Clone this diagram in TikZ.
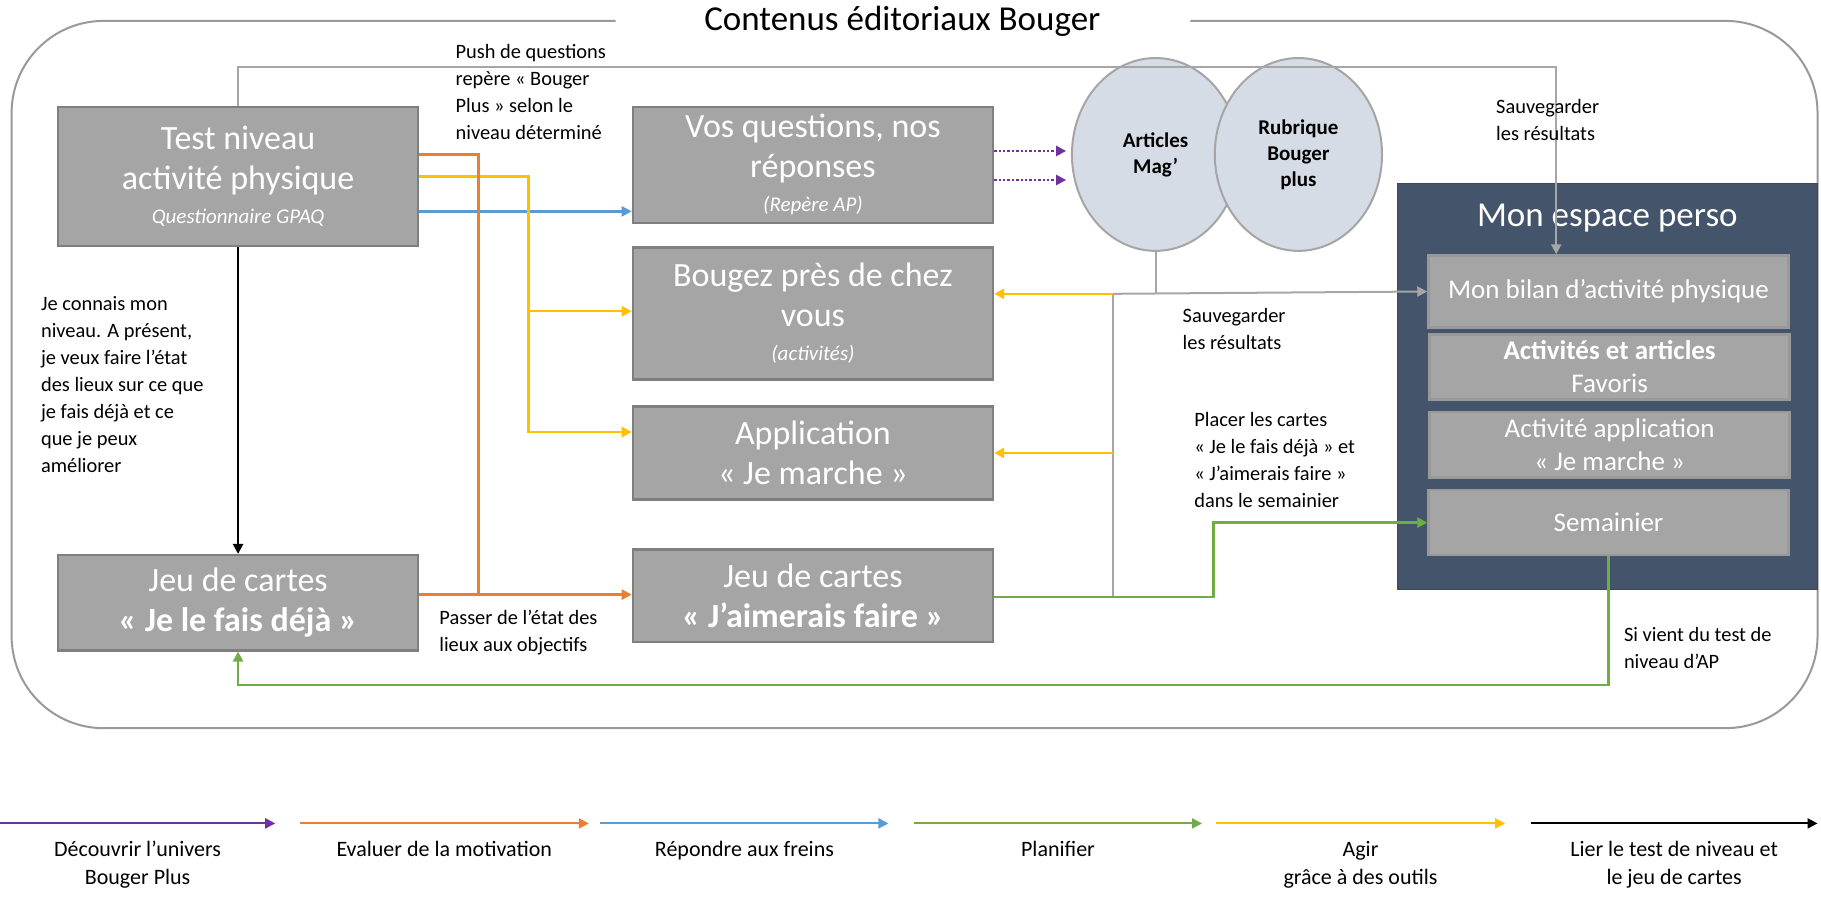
\documentclass[tikz,border=0pt]{standalone}
\usepackage{fontspec}
\setmainfont{Carlito}
\usetikzlibrary{positioning,calc,arrows.meta,shapes.geometric}
\definecolor{boxgray}{HTML}{A5A5A5}
\definecolor{boxline}{HTML}{7F7F7F}
\definecolor{circfill}{HTML}{D6DCE5}
\definecolor{navy}{HTML}{44546A}
\definecolor{corange}{HTML}{ED7D31}
\definecolor{cyellow}{HTML}{FFC000}
\definecolor{cblue}{HTML}{5B9BD5}
\definecolor{cgreen}{HTML}{70AD47}
\definecolor{cpurple}{HTML}{7030A0}
\tikzset{
  gbox/.style={draw=boxline, line width=1.2pt, fill=boxgray, text=white, align=center,
    minimum width=180pt, font=\fontsize{17}{20}\selectfont, inner sep=2pt},
  ibox/.style={draw=boxline!80, line width=1.2pt, fill=boxgray, text=white, align=center,
    minimum width=180pt, font=\fontsize{13.5}{16.5}\selectfont, inner sep=1pt},
  circ/.style={draw=boxgray, line width=1pt, fill=circfill, ellipse, minimum width=83.6pt,
    minimum height=96.4pt, align=center, font=\bfseries\fontsize{10.5}{13}\selectfont},
  lab/.style={align=left, font=\fontsize{10.2}{13.5}\selectfont, inner sep=0pt},
  leg/.style={align=center, font=\fontsize{11}{14}\selectfont},
  link/.style={line width=1.2pt, -{Triangle[length=5pt,width=5pt]}},
}
\begin{document}
\begin{tikzpicture}[x=0.5806pt,y=-0.5806pt]
% frame
\draw[gray!80, line width=1pt, rounded corners=46pt]
  (530,18) -- (10,18) -- (10,627) -- (1565,627) -- (1565,18) -- (1025,18);
\node (title) at (777,18) {\fontsize{17.5}{20}\selectfont Contenus éditoriaux Bouger};
% boxes
\node[gbox, minimum height=69.7pt] (test) at (205,152) {Test niveau\\activité physique\\[-3pt]{\itshape\fontsize{10.5}{12}\selectfont Questionnaire GPAQ}};
\node[gbox, minimum height=58pt] (vos) at (700,142) {Vos questions, nos\\réponses\\[-3pt]{\itshape\fontsize{10.5}{12}\selectfont (Repère AP)}};
\node[gbox, minimum height=66pt] (bougez) at (700,270) {Bougez près de chez\\vous\\[-3pt]{\itshape\fontsize{10.5}{12}\selectfont (activités)}};
\node[gbox, minimum height=46.4pt] (appli) at (700,390) {Application\\« Je marche »};
\node[gbox, minimum height=46.4pt] (aim) at (700,513) {Jeu de cartes\\\textbf{« J’aimerais faire »}};
\node[gbox, minimum height=47.6pt] (fais) at (205,519) {Jeu de cartes\\\textbf{« Je le fais déjà »}};
\node[circ] (mag) at (995,133) {Articles\\Mag’};
\node[circ] (rub) at (1118,133) {Rubrique\\Bouger\\plus};
% espace perso
\node[draw=navy!80!blue, fill=navy, minimum width=210pt, minimum height=202.6pt, anchor=north west, inner sep=0pt] (esp) at (1203,158) {};
\node[text=white, font=\fontsize{17.5}{20}\selectfont] (esptitle) at (1384,188) {Mon espace perso};
\node[ibox, minimum height=36pt] (bilan) at (1385,251) {Mon bilan d’activité physique};
\node[ibox, minimum height=32.5pt] (favo) at (1386,316) {\textbf{Activités et articles}\\Favoris};
\node[ibox, minimum height=32.5pt] (actapp) at (1386,383) {Activité application\\« Je marche »};
\node[ibox, minimum height=32.5pt] (sem) at (1385,450) {Semainier};
% coordinates
\coordinate (hub) at (958,253);
\coordinate (hubdown) at (958,514);
% gray links
\draw[gray!70, line width=1pt, -{Triangle[length=5pt,width=5pt]}] (test.north) |- (1340,58) -- (bilan.north -| 1340,0);
\draw[gray!70, line width=1pt] (mag.south) -- (mag.south |- hub);
\draw[gray!70, line width=1pt, -{Triangle[length=5pt,width=5pt]}] (hub) -- (bilan.west);
\draw[gray!70, line width=1pt] (hub) -- (hubdown);
\draw[link, cyellow] (hub) -- (bougez.east |- hub);
\draw[link, cyellow] (958,390) -- (appli.east);
% from test
\draw[link, cblue] (test.east |- 0,182) -- (vos.west |- 0,182);
\draw[link, cyellow] (test.east |- 0,152) -- (455,152) |- (bougez.west |- 0,268);
\draw[link, cyellow] (455,268) |- (appli.west |- 0,372);
\draw[link, corange] (test.east |- 0,133) -- (412,133) |- (aim.west |- 0,512);
\draw[corange, line width=1.2pt] (fais.east |- 0,512) -- (412,512);
\draw[link, black] (test.south) -- (fais.north);
\draw[cpurple, densely dotted, line width=1.2pt, -{Triangle[length=5pt,width=5pt]}] (vos.east |- 0,130) -- (918,130);
\draw[cpurple, densely dotted, line width=1.2pt, -{Triangle[length=5pt,width=5pt]}] (vos.east |- 0,155) -- (918,155);
% green
\draw[link, cgreen] (aim.east |- hubdown) -- (1045,514) |- (sem.west);
\draw[link, cgreen] (sem.south -| 1385,0) -- (1385,590) -- (205,590) -- (fais.south);
% labels
\node[lab, anchor=north west] (lpush) at (392,38) {Push de questions\\repère « Bouger\\Plus » selon le\\niveau déterminé};
\node[lab, anchor=north west] (lsave1) at (1288,85) {Sauvegarder\\les résultats};
\node[lab, anchor=north west] (lsave2) at (1018,265) {Sauvegarder\\les résultats};
\node[lab, anchor=north west] (lplace) at (1028,355) {Placer les cartes\\« Je le fais déjà » et\\« J’aimerais faire »\\dans le semainier};
\node[lab, anchor=north west] (lconn) at (35,255) {Je connais mon\\niveau. A présent,\\je veux faire l’état\\des lieux sur ce que\\je fais déjà et ce\\que je peux\\améliorer};
\node[lab, anchor=north west] (lpass) at (378,525) {Passer de l’état des\\lieux aux objectifs};
\node[lab, anchor=north west] (lsi) at (1398,540) {Si vient du test de\\niveau d’AP};
% legend
\foreach \xa/\xb/\col/\txt in {0/237/cpurple/{Découvrir l’univers\\Bouger Plus}, 258/507/corange/{Evaluer de la motivation}, 517/765/cblue/{Répondre aux freins}, 787/1035/cgreen/{Planifier}, 1047/1296/cyellow/{Agir\\grâce à des outils}, 1318/1565/black/{Lier le test de niveau et\\le jeu de cartes}}{
  \draw[\col, line width=1pt, -{Triangle[length=5pt,width=5pt]}] (\xa,709) -- (\xb,709);
  \node[leg, anchor=north] at ({(\xa+\xb)/2},718) {\txt};
}
\pgfresetboundingbox
\path[use as bounding box] (0,0) rectangle (1568,776.7);
\end{tikzpicture}
\end{document}
